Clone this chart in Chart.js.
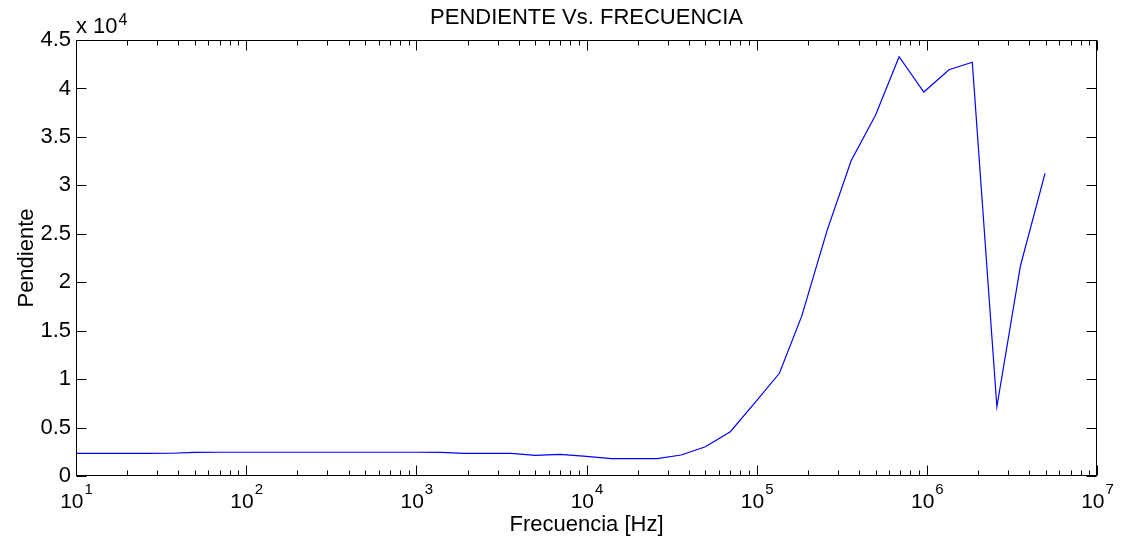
<!DOCTYPE html>
<html>
<head>
<meta charset="utf-8">
<title>PENDIENTE Vs. FRECUENCIA</title>
<script src="https://cdn.jsdelivr.net/npm/chart.js@4.4.1/dist/chart.umd.min.js"></script>
<style>
  html, body { margin: 0; padding: 0; background: #fff; }
  canvas { display: block; }
</style>
</head>
<body>
<canvas id="slopeChart" width="1123" height="541"></canvas>
<script>
// Data (frequency in Hz, slope in raw units)
const freqs = [10, 14, 19, 26, 36, 50, 70, 100, 140, 190, 260, 360, 500, 700,
  1000, 1400, 1900, 2600, 3600, 5000, 7000, 10000, 14000, 19000, 26000, 36000,
  50000, 70000, 100000, 136000, 184000, 260000, 359000, 500000, 687000, 960000,
  1350000, 1850000, 2580000, 3550000, 4950000];
const slope = [2340, 2340, 2340, 2340, 2350, 2440, 2450, 2450, 2450, 2450, 2450,
  2450, 2450, 2450, 2450, 2440, 2340, 2330, 2330, 2130, 2230, 2020, 1790, 1790,
  1790, 2170, 3020, 4570, 7770, 10600, 16500, 25400, 32540, 37250, 43270, 39630,
  41930, 42700, 7150, 21700, 31240];

const xDecades = [1, 2, 3, 4, 5, 6, 7];          // 10^1 .. 10^7
const yTicks   = [0, 0.5, 1, 1.5, 2, 2.5, 3, 3.5, 4, 4.5]; // x 10^4
const yScaleExp = 4;

const FONT = 'Arial, "Liberation Sans", Helvetica, sans-serif';

/* ── MATLAB-ish frame: inward ticks, box, labels, titles ── */
const matlabFrame = {
  id: 'matlabFrame',
  afterDraw(chart) {
    const { ctx, chartArea: a, scales } = chart;
    const xs = scales.x, ys = scales.y;
    const L = Math.round(a.left) + 0.5, R = Math.round(a.right) - 0.5;
    const T = Math.round(a.top) + 0.5, B = Math.round(a.bottom) - 0.5;

    ctx.save();
    ctx.strokeStyle = '#000';
    ctx.lineWidth = 1;

    // x ticks (bottom + top)
    ctx.beginPath();
    xs.ticks.forEach(t => {
      const px = Math.round(xs.getPixelForValue(t.value)) + 0.5;
      const major = Math.abs(Math.log10(t.value) % 1) < 1e-9;
      const len = major ? 10 : 5;
      ctx.moveTo(px, B); ctx.lineTo(px, B - len);
      ctx.moveTo(px, T); ctx.lineTo(px, T + len);
    });
    // y ticks (left + right)
    ys.ticks.forEach(t => {
      const py = Math.round(ys.getPixelForValue(t.value)) + 0.5;
      ctx.moveTo(L, py); ctx.lineTo(L + 10, py);
      ctx.moveTo(R, py); ctx.lineTo(R - 10, py);
    });
    ctx.stroke();

    // box
    ctx.strokeRect(L, T, R - L, B - T);

    ctx.fillStyle = '#000';

    // x tick labels 10^n
    xDecades.forEach(d => {
      const px = xs.getPixelForValue(Math.pow(10, d));
      ctx.font = '21px ' + FONT;
      const wBase = ctx.measureText('10').width;
      ctx.font = '15px ' + FONT;
      const wExp = ctx.measureText(String(d)).width;
      const x0 = px - (wBase + wExp) / 2;
      ctx.textAlign = 'left';
      ctx.textBaseline = 'alphabetic';
      ctx.font = '21px ' + FONT;
      ctx.fillText('10', x0, 508);
      ctx.font = '15px ' + FONT;
      ctx.fillText(String(d), x0 + wBase + 1, 494);
    });

    // exponent marker above y axis
    ctx.font = '22px ' + FONT;
    ctx.textAlign = 'left';
    ctx.fillText('x 10', a.left, 33);
    const wx = ctx.measureText('x 10').width;
    ctx.font = '16px ' + FONT;
    ctx.fillText(String(yScaleExp), a.left + wx + 1, 25);

    // title
    ctx.font = '22px ' + FONT;
    ctx.textAlign = 'center';
    ctx.fillText('PENDIENTE Vs. FRECUENCIA', (a.left + a.right) / 2, 24);

    // x title
    ctx.fillText('Frecuencia [Hz]', (a.left + a.right) / 2, 531);

    // y title
    ctx.translate(33, (a.top + a.bottom) / 2);
    ctx.rotate(-Math.PI / 2);
    ctx.fillText('Pendiente', 0, 0);
    ctx.restore();
  }
};

/* ── Chart ── */
new Chart(document.getElementById('slopeChart'), {
  type: 'line',
  data: {
    datasets: [{
      label: 'Pendiente',
      data: freqs.map((f, i) => ({ x: f, y: slope[i] })),
      borderColor: '#0000ff',
      borderWidth: 1.2,
      pointRadius: 0,
      tension: 0,
      fill: false,
    }]
  },
  options: {
    responsive: false,
    animation: false,
    devicePixelRatio: 1,
    layout: { padding: { top: 40, right: 26, left: 0, bottom: 0 } },
    plugins: { legend: { display: false }, tooltip: { enabled: false }, title: { display: false } },
    scales: {
      x: {
        type: 'logarithmic',
        min: 10, max: 1e7,
        grid: { display: false },
        border: { display: false },
        ticks: { display: false },
        afterBuildTicks: axis => {
          const ticks = [];
          for (let d = 1; d < 7; d++) {
            for (let m = 1; m < 10; m++) ticks.push({ value: m * Math.pow(10, d) });
          }
          ticks.push({ value: 1e7 });
          axis.ticks = ticks;
        },
        afterFit: axis => { axis.height = 65; },
      },
      y: {
        type: 'linear',
        min: 0, max: 45000,
        grid: { display: false, drawTicks: false },
        border: { display: false },
        afterBuildTicks: axis => {
          axis.ticks = yTicks.map(v => ({ value: v * Math.pow(10, yScaleExp) }));
        },
        ticks: {
          color: '#000',
          padding: 5,
          font: { family: FONT, size: 22 },
          callback: v => String(v / Math.pow(10, yScaleExp)),
        },
        afterFit: axis => { axis.width = 76; },
      }
    }
  },
  plugins: [matlabFrame]
});
</script>
</body>
</html>
